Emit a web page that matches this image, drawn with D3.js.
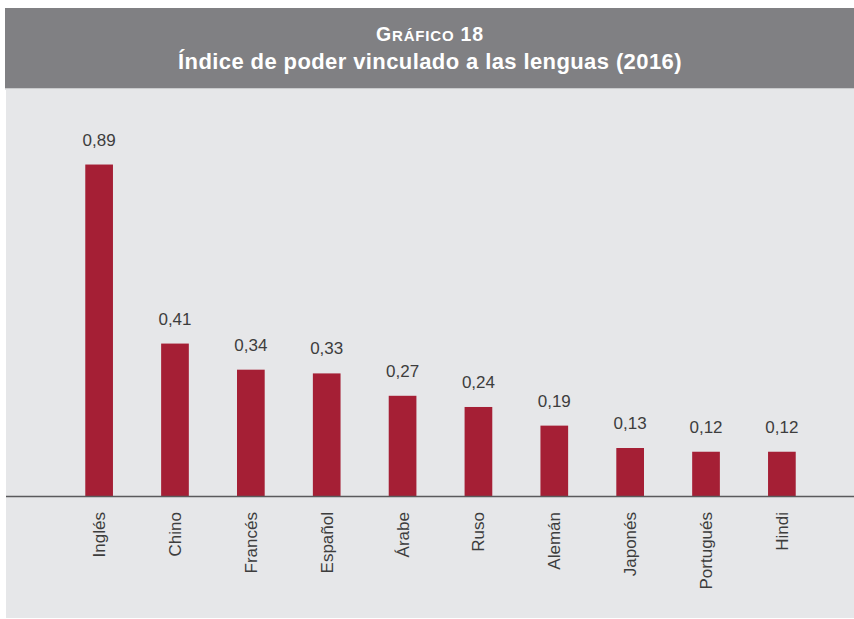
<!DOCTYPE html>
<html><head><meta charset="utf-8">
<script src="https://cdn.jsdelivr.net/npm/d3@7"></script>
<style>html,body{margin:0;padding:0;background:#fff;}svg{display:block;}</style>
</head><body>
<script>
const categories = ["Inglés","Chino","Francés","Español","Árabe","Ruso","Alemán","Japonés","Portugués","Hindi"];
const values = [0.89,0.41,0.34,0.33,0.27,0.24,0.19,0.13,0.12,0.12];
const valueLabels = ["0,89","0,41","0,34","0,33","0,27","0,24","0,19","0,13","0,12","0,12"];
const titleLine1 = "Gráfico 18";
const titleLine2 = "Índice de poder vinculado a las lenguas (2016)";

const W = 854, H = 619;
const svg = d3.select("body").append("svg").attr("width", W).attr("height", H);
const font = "'Liberation Sans', Arial, Helvetica, sans-serif";

// header
svg.append("rect").attr("x",5).attr("y",8).attr("width",W-5).attr("height",80).attr("fill","#808083");
svg.append("rect").attr("x",5).attr("y",88).attr("width",W-5).attr("height",1.5).attr("fill","#c9cacc");
// panel
svg.append("rect").attr("x",6).attr("y",89.5).attr("width",W-6).attr("height",H-1-89.5).attr("fill","#e6e7e9");

const t1 = svg.append("text").attr("x",430).attr("y",41).attr("text-anchor","middle")
  .attr("fill","#fff").attr("font-family",font).attr("font-weight","bold").attr("letter-spacing",0.8);
t1.append("tspan").attr("font-size",19.5).text("G");
t1.append("tspan").attr("font-size",15).text("RÁFICO");
t1.append("tspan").attr("font-size",19.5).text(" 18");
svg.append("text").attr("x",430).attr("y",69).attr("text-anchor","middle")
  .attr("fill","#fff").attr("font-family",font).attr("font-size",22).attr("font-weight","bold")
  .attr("letter-spacing",0.4)
  .text(titleLine2);

const baseline = 496.5;
const x = d3.scaleBand().domain(categories).range([61, 820]).paddingInner(0.635).paddingOuter(0.32);
const y = d3.scaleLinear().domain([0, 1]).range([baseline, baseline - 373]);

svg.append("g").selectAll("rect").data(values).join("rect")
  .attr("x",(d,i)=>x(categories[i])).attr("width",x.bandwidth())
  .attr("y",d=>y(d)).attr("height",d=>y(0)-y(d)).attr("fill","#a51f35");

svg.append("g").selectAll("text").data(values).join("text")
  .attr("x",(d,i)=>x(categories[i])+x.bandwidth()/2).attr("y",d=>y(d)-19)
  .attr("text-anchor","middle").attr("font-family",font).attr("font-size",17).attr("fill","#3d3d3d")
  .text((d,i)=>valueLabels[i]);

// axis line
svg.append("line").attr("x1",6).attr("x2",W).attr("y1",baseline).attr("y2",baseline)
  .attr("stroke","#5a5a5c").attr("stroke-width",1.3);

// category labels
const xAxis = d3.axisBottom(x).tickSize(0).tickPadding(0);
const ag = svg.append("g").attr("transform",`translate(0,${baseline})`).call(xAxis);
ag.select(".domain").remove();
ag.selectAll("text").attr("font-family",font).attr("font-size",17).attr("fill","#3d3d3d")
  .attr("transform","rotate(-90)").attr("text-anchor","end").attr("dy","0.35em")
  .attr("x",-15.5).attr("y",0);
</script>
</body></html>
